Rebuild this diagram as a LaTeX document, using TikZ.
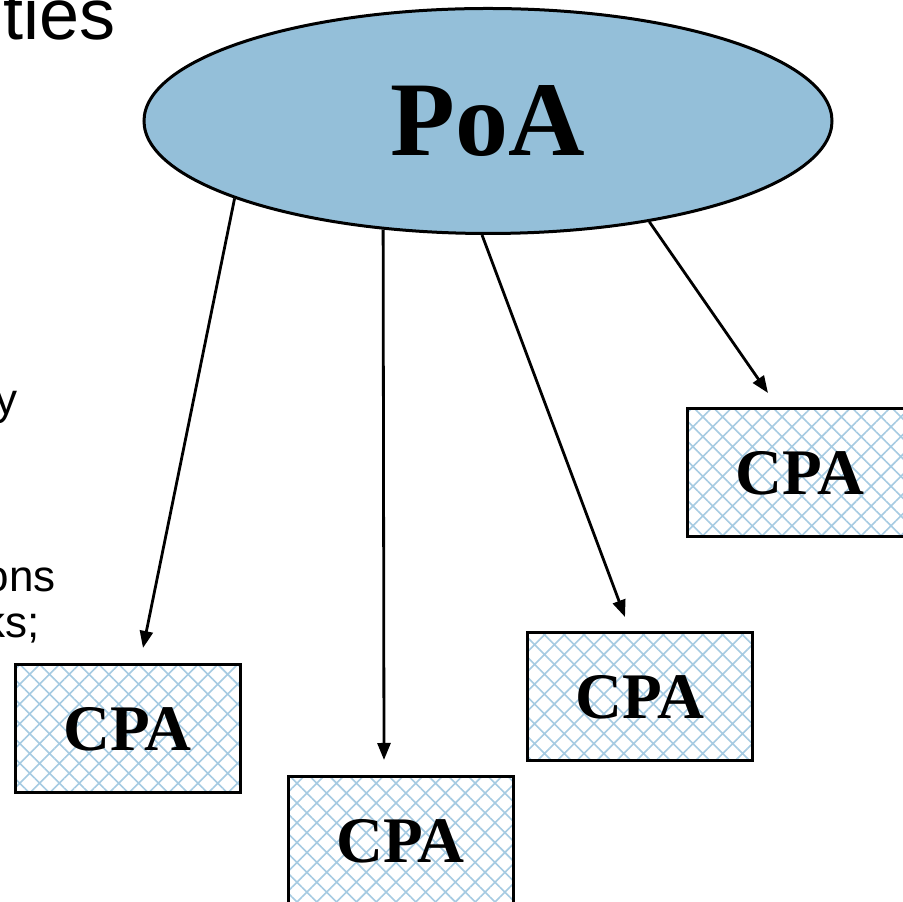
\documentclass[tikz,border=0pt]{standalone}
\usepackage{fontspec}
\setmainfont{Liberation Serif}
\newfontfamily\slidefont{Liberation Sans}
\usetikzlibrary{shapes.geometric, arrows.meta, patterns.meta, positioning}
\definecolor{poablue}{RGB}{148,191,217}
\definecolor{hatchblue}{RGB}{166,203,226}

\begin{document}
\begin{tikzpicture}[x=1pt,y=1pt,>={Triangle[length=17pt,width=13pt]},->,line width=2.8pt]

	\tikzstyle{every node}=[font=\bfseries]

	\tikzstyle{poa state}=[ellipse,draw=black,line width=3pt,fill=poablue,minimum width=688pt,minimum height=225pt,inner sep=0pt,font=\fontsize{106}{106}\selectfont\bfseries]
	\tikzstyle{cpa box}=[rectangle,draw=black,line width=3pt,pattern={Hatch[angle=45,distance=14pt,line width=1.6pt]},pattern color=hatchblue,minimum width=225pt,minimum height=128pt,inner sep=0pt,font=\fontsize{65}{65}\selectfont\bfseries]
	\tikzstyle{title text}=[font=\slidefont\fontsize{72}{72}\selectfont\mdseries,inner sep=0pt,anchor=base east]
	\tikzstyle{slide text}=[font=\slidefont\fontsize{44}{44}\selectfont\mdseries,inner sep=0pt,anchor=base east]

	\useasboundingbox (0,0) rectangle (903,902);
	\clip (0,0) rectangle (903,902);
	\fill[white] (0,0) rectangle (903,902);

	% left over words of the slide
	\node[title text] (w1) at (117,862) {ties};
	\node[slide text] (w2) at (19,487) {y};
	\node[slide text] (w3) at (57,310) {ons};
	\node[slide text] (w4) at (41,264) {ks;};

	\node[poa state] (poa) at (488,781) {PoA};

	\node[cpa box] (c1) at (127.5,173) {CPA};
	\node[cpa box] (c2) at (400.5,61) {CPA};
	\node[cpa box] (c3) at (640,205) {CPA};
	\node[cpa box] (c4) at (800,429) {CPA};

	\coordinate (e1) at (143,254);
	\coordinate (e2) at (384,142);
	\coordinate (e3) at (625,285);
	\coordinate (e4) at (768,509);

	\path (poa.197) edge (e1)
	(poa.226.3) edge (e2)
	(poa.267.5) edge (e3)
	(poa.328.5) edge (e4);

\end{tikzpicture}
\end{document}
